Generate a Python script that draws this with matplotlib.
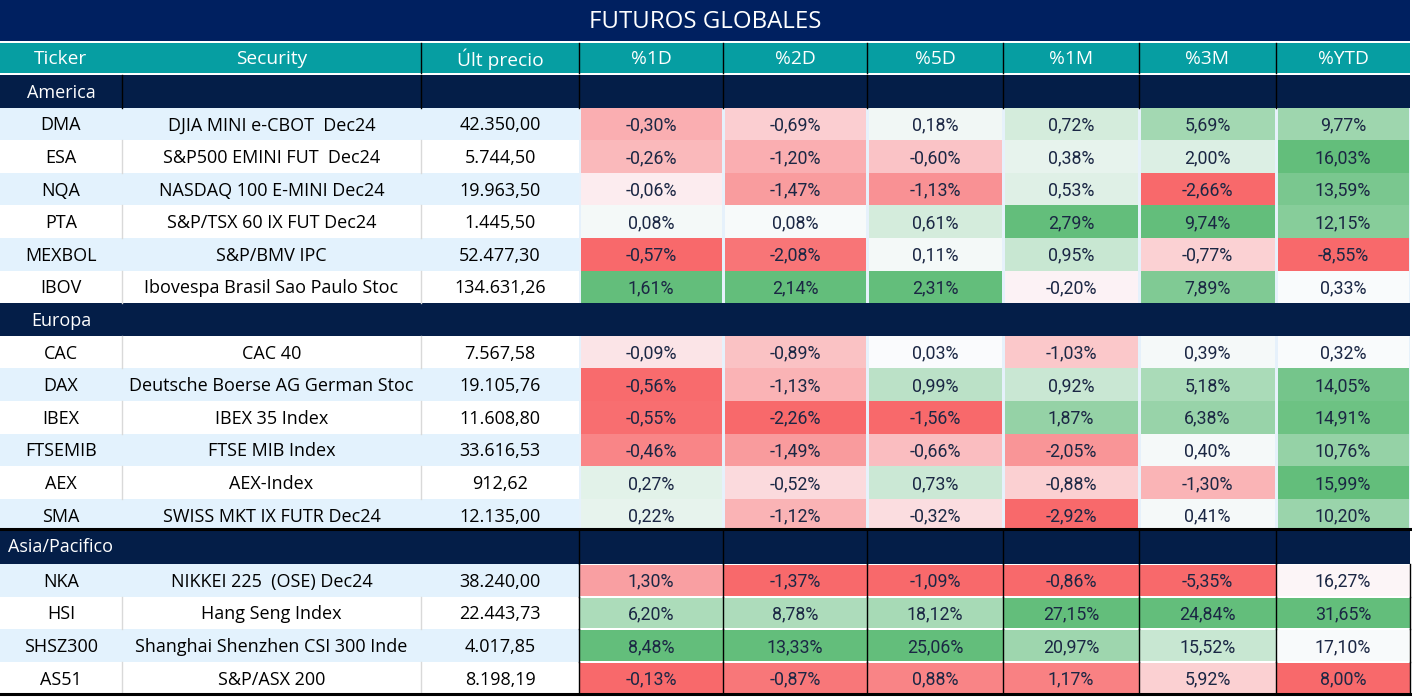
import numpy as np
import matplotlib
matplotlib.use("Agg")
import matplotlib.pyplot as plt
from matplotlib.patches import Rectangle
from matplotlib.colors import LinearSegmentedColormap, TwoSlopeNorm

# ---------------- data ----------------
title = "FUTUROS GLOBALES"
headers = ["Ticker", "Security", "Últ precio", "%1D", "%2D", "%5D", "%1M", "%3M", "%YTD"]
regions = ["America", "Europa", "Asia/Pacifico"]
region_sizes = [6, 6, 4]
tickers = ["DMA", "ESA", "NQA", "PTA", "MEXBOL", "IBOV",
           "CAC", "DAX", "IBEX", "FTSEMIB", "AEX", "SMA",
           "NKA", "HSI", "SHSZ300", "AS51"]
securities = ["DJIA MINI e-CBOT  Dec24", "S&P500 EMINI FUT  Dec24", "NASDAQ 100 E-MINI Dec24",
              "S&P/TSX 60 IX FUT Dec24", "S&P/BMV IPC", "Ibovespa Brasil Sao Paulo Stoc",
              "CAC 40", "Deutsche Boerse AG German Stoc", "IBEX 35 Index", "FTSE MIB Index",
              "AEX-Index", "SWISS MKT IX FUTR Dec24",
              "NIKKEI 225  (OSE) Dec24", "Hang Seng Index", "Shanghai Shenzhen CSI 300 Inde",
              "S&P/ASX 200"]
prices = [42350.00, 5744.50, 19963.50, 1445.50, 52477.30, 134631.26,
          7567.58, 19105.76, 11608.80, 33616.53, 912.62, 12135.00,
          38240.00, 22443.73, 4017.85, 8198.19]
pct_1d = [-0.30, -0.26, -0.06, 0.08, -0.57, 1.61, -0.09, -0.56, -0.55, -0.46, 0.27, 0.22,
          1.30, 6.20, 8.48, -0.13]
pct_2d = [-0.69, -1.20, -1.47, 0.08, -2.08, 2.14, -0.89, -1.13, -2.26, -1.49, -0.52, -1.12,
          -1.37, 8.78, 13.33, -0.87]
pct_5d = [0.18, -0.60, -1.13, 0.61, 0.11, 2.31, 0.03, 0.99, -1.56, -0.66, 0.73, -0.32,
          -1.09, 18.12, 25.06, 0.88]
pct_1m = [0.72, 0.38, 0.53, 2.79, 0.95, -0.20, -1.03, 0.92, 1.87, -2.05, -0.88, -2.92,
          -0.86, 27.15, 20.97, 1.17]
pct_3m = [5.69, 2.00, -2.66, 9.74, -0.77, 7.89, 0.39, 5.18, 6.38, 0.40, -1.30, 0.41,
          -5.35, 24.84, 15.52, 5.92]
pct_ytd = [9.77, 16.03, 13.59, 12.15, -8.55, 0.33, 0.32, 14.05, 14.91, 10.76, 15.99, 10.20,
           16.27, 31.65, 17.10, 8.00]
pct_cols = [pct_1d, pct_2d, pct_5d, pct_1m, pct_3m, pct_ytd]

# ---------------- style / layout ----------------
W, H = 1412, 697
col_edges = [0, 122, 421, 579, 723, 867, 1003, 1139, 1276, 1410]
title_h = 41
head_top, head_bot = 43, 73
row_top0 = 75
row_h = 32.6
stripe_start = [True, False, True]   # first data row of each region striped?

NAVY_TITLE = "#002060"
NAVY_GROUP = "#041E48"
TEAL = "#069EA2"
STRIPE = "#E3F2FD"
GAP = "#E6F1FB"
TXT_PCT = "#1B2744"
FONT_MAIN = ["Open Sans", "DejaVu Sans"]
FONT_PCT = ["Roboto", "DejaVu Sans"]
FS_MAIN = 13
FS_HEAD = 13.8
FS_TITLE = 17.3
FS_PCT = 12.8

cmap = LinearSegmentedColormap.from_list("rwg", ["#F8696B", "#FCFCFF", "#63BE7B"])


def fmt_num(v, dec=2):
    s = f"{v:,.{dec}f}"
    return s.replace(",", "X").replace(".", ",").replace("X", ".")


def fmt_pct(v):
    return f"{v:.2f}".replace(".", ",") + "%"


fig = plt.figure(figsize=(W / 100, H / 100), dpi=100)
ax = fig.add_axes([0, 0, 1, 1])
ax.set_xlim(0, W)
ax.set_ylim(H, 0)
ax.axis("off")

# title
ax.add_patch(Rectangle((0, 0), col_edges[-1], title_h, color=NAVY_TITLE, lw=0))
ax.text(col_edges[-1] / 2, title_h / 2 + 1, title, ha="center", va="center",
        color="white", fontsize=FS_TITLE, family=FONT_MAIN)

# header
ax.add_patch(Rectangle((0, head_top), col_edges[-1], head_bot - head_top, color=TEAL, lw=0))
for j, h in enumerate(headers):
    cx = (col_edges[j] + col_edges[j + 1]) / 2
    ax.text(cx, (head_top + head_bot) / 2 + 1, h, ha="center", va="center",
            color="white", fontsize=FS_HEAD, family=FONT_MAIN)
for x in col_edges[2:-1]:
    ax.plot([x, x], [head_top, head_bot], color="black", lw=1)

# color norms per block: America+Europa (center 0), Asia (center median)
n_ae = region_sizes[0] + region_sizes[1]
norms = []
for vals in pct_cols:
    v = np.array(vals)
    a = v[:n_ae]
    b = v[n_ae:]
    norms.append((TwoSlopeNorm(vmin=a.min(), vcenter=0.0, vmax=a.max()),
                  TwoSlopeNorm(vmin=b.min(), vcenter=float(np.median(b)), vmax=b.max())))

row = 0
idx = 0
for r, (reg, n) in enumerate(zip(regions, region_sizes)):
    y0 = row_top0 + row * row_h
    if r == 2:
        y0 = y0 - 2
    gy0 = y0
    ax.add_patch(Rectangle((0, gy0), col_edges[-1], row_h + (2 if r == 2 else 0),
                           color=NAVY_GROUP, lw=0))
    ax.text(61, gy0 + row_h / 2 + 1.5, reg, ha="center", va="center", color="white",
            fontsize=FS_MAIN, family=FONT_MAIN)
    if r == 0:
        for x in col_edges[1:-1]:
            ax.plot([x, x], [gy0, gy0 + row_h], color="black", lw=1)
    elif r == 2:
        for x in col_edges[3:-1]:
            ax.plot([x, x], [gy0, gy0 + row_h + 2], color="black", lw=1)
        ax.plot([0, col_edges[-1]], [gy0, gy0], color="black", lw=2.2)
    row += 1
    for k in range(n):
        y = row_top0 + row * row_h
        striped = (k % 2 == 0) == stripe_start[r]
        bg = STRIPE if striped else "white"
        ax.add_patch(Rectangle((0, y), col_edges[3], row_h, color=bg, lw=0))
        if not striped:
            for x in col_edges[1:3]:
                ax.plot([x, x], [y, y + row_h], color="#D9D9D9", lw=1)
        ax.add_patch(Rectangle((col_edges[3], y), col_edges[-1] - col_edges[3], row_h,
                               color=GAP if r < 2 else "white", lw=0))
        cy = y + row_h / 2 + 1.5
        ax.text(61, cy, tickers[idx], ha="center", va="center", color="black",
                fontsize=FS_MAIN, family=FONT_MAIN)
        ax.text((col_edges[1] + col_edges[2]) / 2, cy, securities[idx], ha="center",
                va="center", color="black", fontsize=FS_MAIN, family=FONT_MAIN)
        ax.text((col_edges[2] + col_edges[3]) / 2, cy, fmt_num(prices[idx]), ha="center",
                va="center", color="black", fontsize=FS_MAIN, family=FONT_MAIN)
        for j, vals in enumerate(pct_cols):
            v = vals[idx]
            nrm = norms[j][0] if r < 2 else norms[j][1]
            c = cmap(nrm(v))
            x0 = col_edges[3 + j]
            x1 = col_edges[4 + j]
            if r < 2:
                ax.add_patch(Rectangle((x0 + 1.5, y), x1 - x0 - 3, row_h, color=c, lw=0))
            else:
                ax.add_patch(Rectangle((x0, y + 1), x1 - x0, row_h - 2, color=c, lw=0))
            ax.text((x0 + x1) / 2, cy, fmt_pct(v), ha="center", va="center",
                    color=TXT_PCT, fontsize=FS_PCT, family=FONT_PCT)
        if r == 2:
            for x in col_edges[3:]:
                ax.plot([x, x], [y, y + row_h], color="black", lw=1)
        row += 1
        idx += 1

bottom = row_top0 + row * row_h
ax.plot([0, col_edges[-1]], [bottom, bottom], color="black", lw=2.2)

fig.savefig("out.png", dpi=100)
